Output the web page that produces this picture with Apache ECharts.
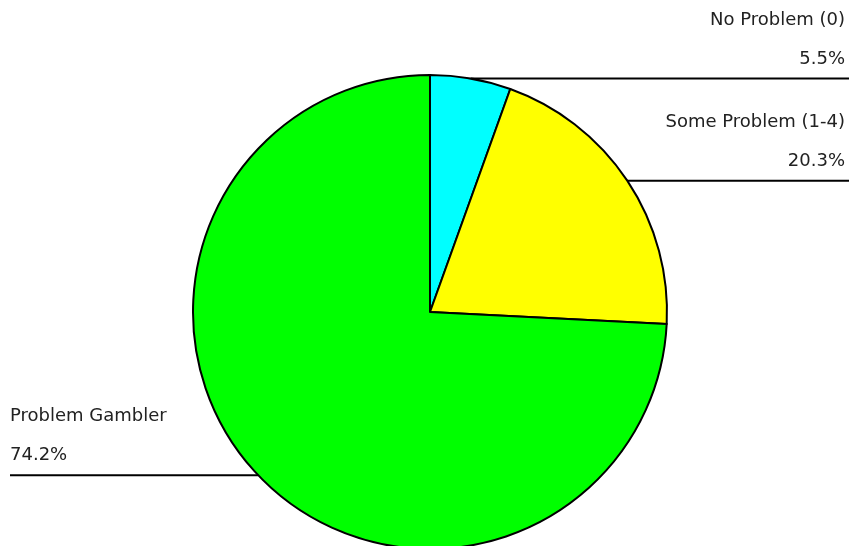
<!DOCTYPE html>
<html>
<head>
<meta charset="utf-8">
<script src="https://cdn.jsdelivr.net/npm/echarts@6/dist/echarts.min.js"></script>
<style>
  html, body { margin: 0; padding: 0; background: #fff; }
  #chart { width: 849px; height: 546px; }
</style>
</head>
<body>
<div id="chart"></div>
<script>
  const categories = ['No Problem (0)', 'Some Problem (1-4)', 'Problem Gambler']
  const percents = [5.5, 20.3, 74.2]
  const colors = ['#00ffff', '#ffff00', '#00ff00']
  const edgeGaps = [4, 4, 10]

  const chart = echarts.init(document.getElementById('chart'))

  const data = categories.map(function (name, i) {
    return {
      name: name,
      value: percents[i],
      itemStyle: { color: colors[i] },
      label: { edgeDistance: edgeGaps[i] }
    }
  })

  chart.setOption({
    backgroundColor: '#fff',
    animation: false,
    series: [{
      type: 'pie',
      center: [430, 312],
      radius: 237,
      startAngle: 90,
      clockwise: true,
      avoidLabelOverlap: false,
      silent: true,
      itemStyle: {
        borderColor: '#000',
        borderWidth: 2
      },
      label: {
        show: true,
        position: 'outside',
        alignTo: 'edge',
        formatter: '{b}\n{c}%',
        fontFamily: 'DejaVu Sans',
        fontSize: 18,
        color: '#222',
        lineHeight: 39
      },
      labelLine: {
        show: true,
        length: 0,
        length2: 10,
        smooth: false,
        lineStyle: { color: '#000', width: 2 }
      },
      labelLayout: function (params) {
        const pts = params.labelLinePoints
        if (!pts) return {}
        const isLeft = params.labelRect.x < chart.getWidth() / 2
        pts[2][0] = isLeft ? params.labelRect.x : params.labelRect.x + params.labelRect.width + 4
        // text sits on top of the leader line
        return { y: pts[2][1], verticalAlign: 'bottom', labelLinePoints: pts }
      },
      data: data
    }]
  })
</script>
</body>
</html>
